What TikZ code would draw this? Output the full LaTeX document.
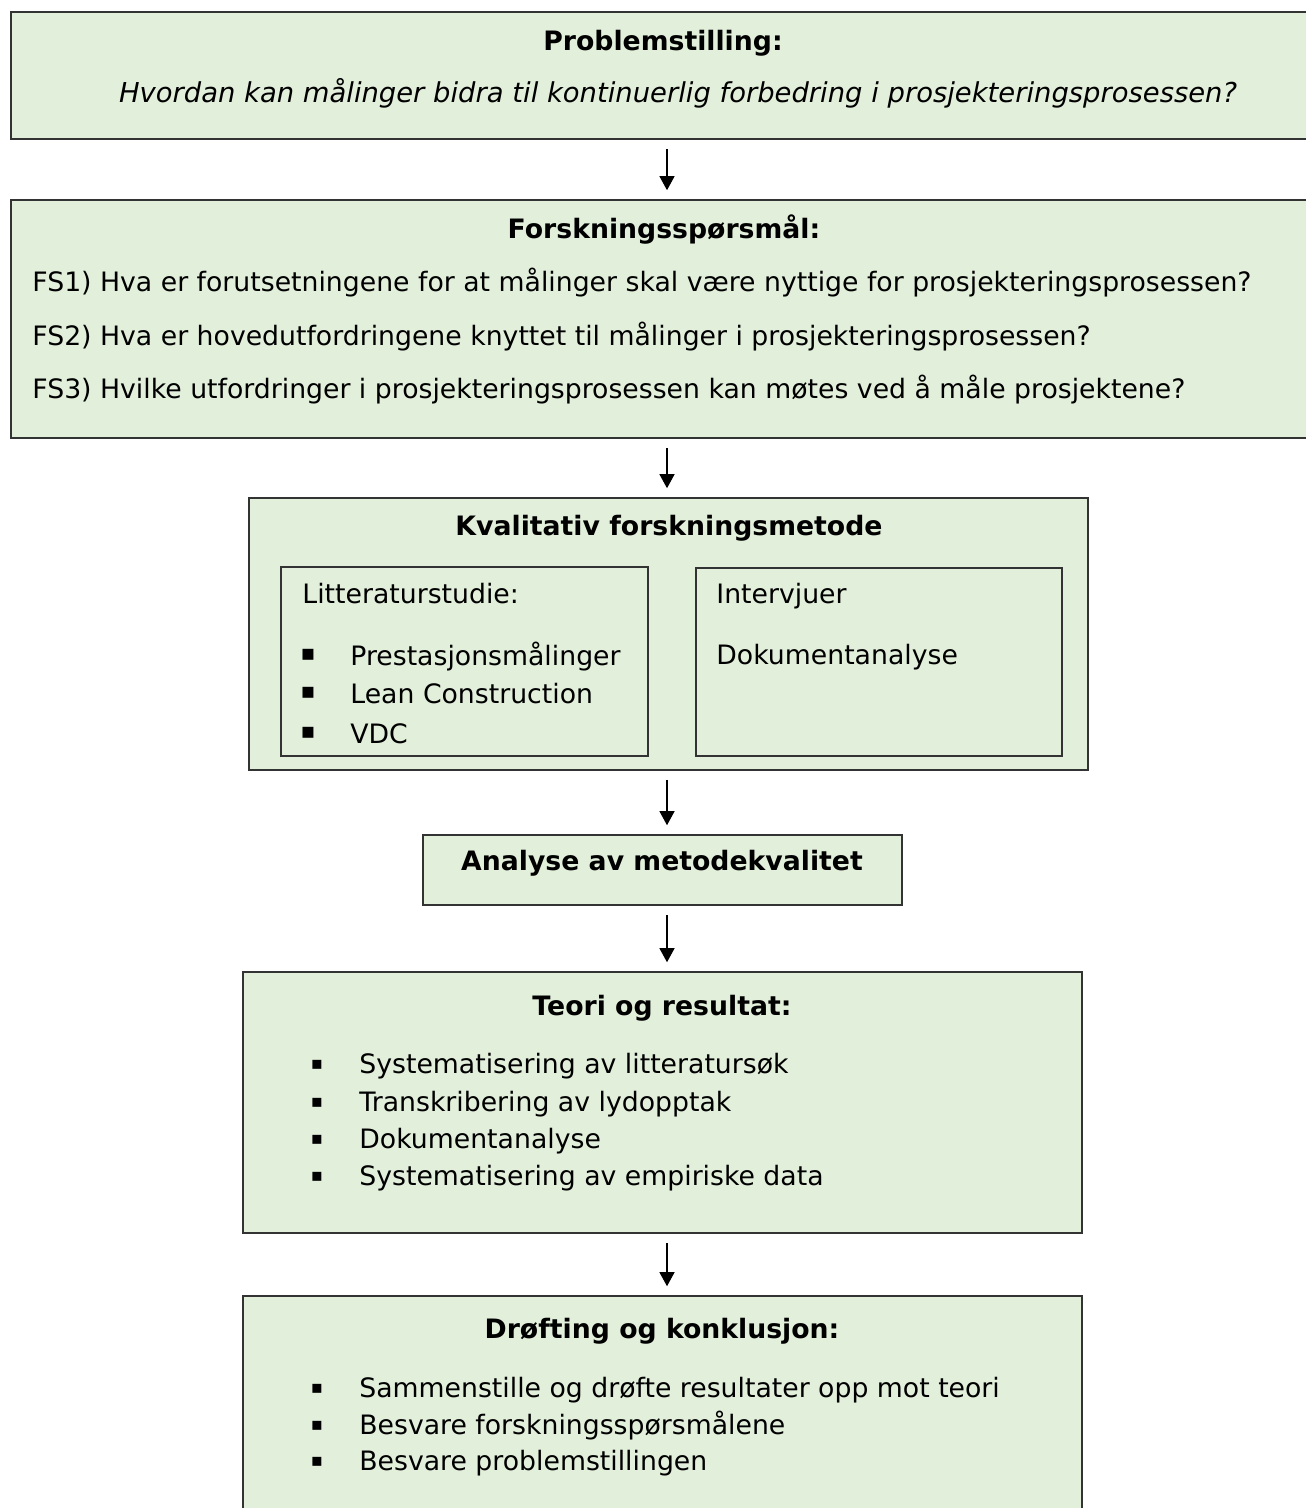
\documentclass[tikz,border=0pt]{standalone}
\usepackage{fontspec}
\setmainfont{DejaVu Sans}
\usetikzlibrary{arrows.meta}
\definecolor{pale}{HTML}{E2EFDA}
\definecolor{rim}{HTML}{333333}
\newcommand\bodysize{\fontsize{13.35}{16}\selectfont}
\tikzset{panel/.style={draw=rim,line width=0.8pt,fill=pale,inner sep=0pt},
 subpanel/.style={draw=rim,line width=0.7pt,inner sep=0pt},
 arr/.style={-{Triangle[length=7pt,width=7.5pt]},line width=0.6pt,shorten <=4.5pt,shorten >=4.5pt},
 head/.style={font=\bodysize\bfseries,anchor=base,inner sep=0pt},
 row/.style={font=\bodysize,anchor=base west,inner sep=0pt},
 sq/.style={font=\fontsize{9}{10}\selectfont,anchor=center,inner sep=0pt}}
\begin{document}
\begin{tikzpicture}[x=0.5pt,y=-0.5pt]
\useasboundingbox (0,0) rectangle (1305,1508);
\coordinate (mid) at (667,0);
% boxes
\node[panel,minimum width=656pt,minimum height=63.5pt] (prob) at (667,75.5) {};
\node[panel,minimum width=656pt,minimum height=119pt] (fs) at (667,319) {};
\node[panel,minimum width=419.5pt,minimum height=136pt] (kval) at (668.5,634) {};
\node[subpanel,minimum width=183.5pt,minimum height=94.5pt] (lit) at (464.5,661.5) {};
\node[subpanel,minimum width=183pt,minimum height=94pt] (emp) at (879,662) {};
\node[panel,minimum width=239.5pt,minimum height=35pt] (metode) at (662.5,870) {};
\node[panel,minimum width=419.5pt,minimum height=130.5pt] (teori) at (662.5,1102.5) {};
\node[panel,minimum width=419.5pt,minimum height=122pt] (drof) at (662.5,1418) {};
% texts
\node[head] (probh) at (663,51) {Problemstilling:};
\node[anchor=base,inner sep=0pt,font=\fontsize{13.7}{16}\selectfont\itshape] (probq) at (678,103) {Hvordan kan målinger bidra til kontinuerlig forbedring i prosjekteringsprosessen?};
\node[head] (fsh) at (664,239) {Forskningsspørsmål:};
\node[row] (fs1) at (32,292) {FS1) Hva er forutsetningene for at målinger skal være nyttige for prosjekteringsprosessen?};
\node[row] (fs2) at (32,345) {FS2) Hva er hovedutfordringene knyttet til målinger i prosjekteringsprosessen?};
\node[row] (fs3) at (32,398) {FS3) Hvilke utfordringer i prosjekteringsprosessen kan møtes ved å måle prosjektene?};
\node[head] (kvalh) at (669,535) {Kvalitativ forskningsmetode};
\node[row] (lith) at (302,603) {Litteraturstudie:};
\foreach \t/\y [count=\i] in {Prestasjonsmålinger/665,Lean Construction/703,VDC/743}{
  \node[sq,font=\fontsize{11}{12}\selectfont] (litb\i) at (308,\y-10) {▪};
  \node[row] (lit\i) at (350,\y) {\t};
}
\node[row] (emp1) at (716,603) {Intervjuer};
\node[row] (emp2) at (716,664) {Dokumentanalyse};
\node[head] (metodeh) at (662,870) {Analyse av metodekvalitet};
\node[head] (teorih) at (662,1015) {Teori og resultat:};
\foreach \t/\y [count=\i] in {Systematisering av litteratursøk/1073,Transkribering av lydopptak/1111,Dokumentanalyse/1148,Systematisering av empiriske data/1185}{
  \node[sq] (teorib\i) at (317,\y-8.5) {▪};
  \node[row] (teori\i) at (359,\y) {\t};
}
\node[head] (drofh) at (662,1338) {Drøfting og konklusjon:};
\foreach \t/\y [count=\i] in {Sammenstille og drøfte resultater opp mot teori/1397,Besvare forskningsspørsmålene/1434,Besvare problemstillingen/1470}{
  \node[sq] (drofb\i) at (317,\y-8.5) {▪};
  \node[row] (drof\i) at (359,\y) {\t};
}
% arrows
\draw[arr] (mid |- prob.south) -- (mid |- fs.north);
\draw[arr] (mid |- fs.south) -- (mid |- kval.north);
\draw[arr] (mid |- kval.south) -- (mid |- metode.north);
\draw[arr] (mid |- metode.south) -- (mid |- teori.north);
\draw[arr] (mid |- teori.south) -- (mid |- drof.north);
\end{tikzpicture}
\end{document}
